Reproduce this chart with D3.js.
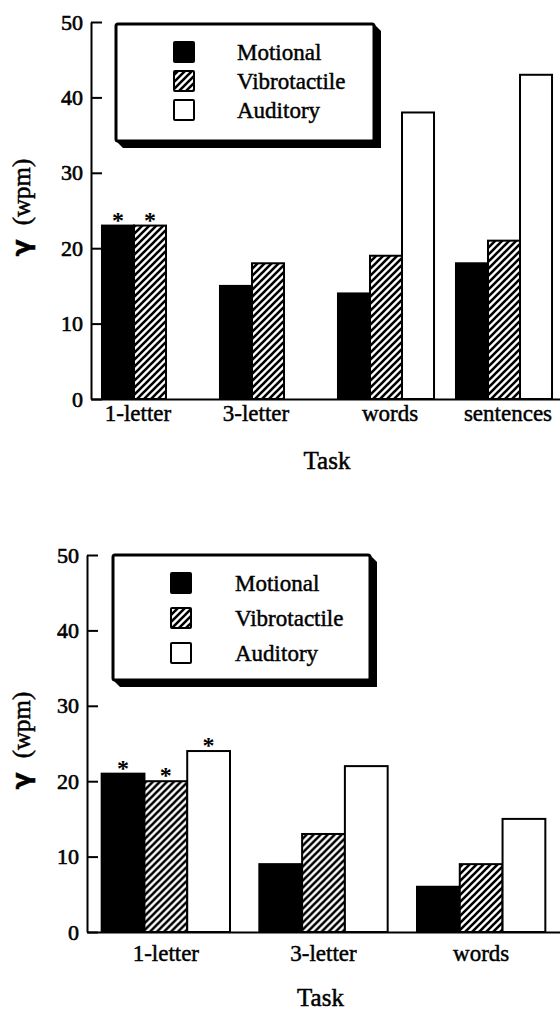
<!DOCTYPE html>
<html>
<head>
<meta charset="utf-8">
<script src="https://cdn.jsdelivr.net/npm/d3@7"></script>
<style>
  html, body { margin: 0; padding: 0; background: #fff; }
  svg { display: block; }
  text { font-family: "Liberation Serif", "Times New Roman", serif; fill: #000; }
</style>
</head>
<body>
<svg id="chart" width="560" height="1013"></svg>
<script>
// ---------- data ----------
const seriesNames = ["Motional", "Vibrotactile", "Auditory"];
const yTicks = [0, 10, 20, 30, 40, 50];
const yLabel = "γ (wpm)";
const xLabel = "Task";

// upper panel
const tasksA = ["1-letter", "3-letter", "words", "sentences"];
const motionalA = [23, 15, 14, 18];
const vibrotactileA = [23, 18, 19, 21];
const auditoryA = [null, null, 38, 43];
const starredA = [["1-letter", "Motional"], ["1-letter", "Vibrotactile"]];

// lower panel
const tasksB = ["1-letter", "3-letter", "words"];
const motionalB = [21, 9, 6];
const vibrotactileB = [20, 13, 9];
const auditoryB = [24, 22, 15];
const starredB = [["1-letter", "Motional"], ["1-letter", "Vibrotactile"], ["1-letter", "Auditory"]];

// ---------- drawing ----------
const svg = d3.select("#chart");
svg.append("rect").attr("width", 560).attr("height", 1013).attr("fill", "#fff");

const defs = svg.append("defs");
const pat = defs.append("pattern")
  .attr("id", "hatch").attr("patternUnits", "userSpaceOnUse")
  .attr("width", 7).attr("height", 7);
pat.append("rect").attr("width", 7).attr("height", 7).attr("fill", "#fff");
pat.append("path")
  .attr("d", "M-1,1 l2,-2 M0,7 l7,-7 M6,8 l2,-2")
  .attr("stroke", "#000").attr("stroke-width", 2.6);

const fills = { "Motional": "#000", "Vibrotactile": "url(#hatch)", "Auditory": "#fff" };

function drawPanel(cfg) {
  const g = svg.append("g");
  const series = [cfg.motional, cfg.vibrotactile, cfg.auditory];
  const rows = cfg.tasks.map((t, i) => ({
    task: t,
    values: seriesNames.map((s, j) => ({ task: t, series: s, value: series[j][i] }))
  }));

  const y = d3.scaleLinear().domain([0, 50]).range([cfg.y0, cfg.y50]);
  const x = d3.scaleBand().domain(cfg.tasks).range([cfg.xL, cfg.xR])
    .paddingInner(0.186).paddingOuter(0.093);
  const xs = d3.scaleBand().domain(seriesNames).range([0, x.bandwidth()]).padding(0);

  // y axis
  const yAxis = g.append("g").attr("transform", `translate(${cfg.xL},0)`)
    .call(d3.axisLeft(y).tickValues(yTicks).tickSizeInner(-11).tickSizeOuter(0).tickPadding(8));
  yAxis.select(".domain").attr("stroke", "#000").attr("stroke-width", 2);
  yAxis.selectAll(".tick line").attr("stroke", "#000").attr("stroke-width", 2);
  yAxis.selectAll(".tick text").attr("font-size", 22).attr("fill", "#000")
    .attr("stroke", "#000").attr("stroke-width", 0.6);

  // x axis
  const xAxis = g.append("g").attr("transform", `translate(0,${cfg.y0})`)
    .call(d3.axisBottom(x).tickValues([]).tickSizeOuter(0));
  xAxis.select(".domain").attr("stroke", "#000").attr("stroke-width", 2);

  // bars
  const groups = g.selectAll(".grp").data(rows).join("g")
    .attr("transform", d => `translate(${x(d.task)},0)`);
  groups.selectAll("rect").data(d => d.values.filter(v => v.value != null)).join("rect")
    .attr("x", d => xs(d.series))
    .attr("y", d => y(d.value))
    .attr("width", xs.bandwidth())
    .attr("height", d => y(0) - y(d.value))
    .attr("fill", d => fills[d.series])
    .attr("stroke", "#000").attr("stroke-width", 2);

  // asterisks
  g.selectAll(".star").data(cfg.starred).join("text")
    .attr("x", d => x(d[0]) + xs(d[1]) + xs.bandwidth() / 2)
    .attr("y", d => {
      const i = cfg.tasks.indexOf(d[0]);
      const j = seriesNames.indexOf(d[1]);
      return y(series[j][i]) + 2;
    })
    .attr("text-anchor", "middle").attr("font-size", 24).attr("font-weight", "bold")
    .text("*");

  // category labels (centred on the bars present)
  g.selectAll(".cat").data(rows).join("text")
    .attr("x", d => {
      const present = d.values.filter(v => v.value != null);
      const a = x(d.task) + xs(present[0].series);
      const b = x(d.task) + xs(present[present.length - 1].series) + xs.bandwidth();
      return (a + b) / 2 + cfg.catDx;
    })
    .attr("y", cfg.catY)
    .attr("text-anchor", "middle").attr("font-size", 23)
    .attr("stroke", "#000").attr("stroke-width", 0.45)
    .text(d => d.task);

  // x title
  g.append("text").attr("x", (cfg.xL + cfg.xR) / 2 + cfg.titleDx).attr("y", cfg.titleY)
    .attr("text-anchor", "middle").attr("font-size", 25)
    .attr("stroke", "#000").attr("stroke-width", 0.5)
    .text(xLabel);

  // y title
  const yt = g.append("text")
    .attr("transform", `translate(30,${(cfg.y0 + cfg.y50) / 2 - 3}) rotate(-90)`)
    .attr("text-anchor", "middle").attr("font-size", 25)
    .attr("stroke", "#000").attr("stroke-width", 0.5);
  const parts = yLabel.split(" ");
  yt.append("tspan").attr("font-family", "DejaVu Sans, sans-serif").attr("font-weight", "bold").text(parts[0]);
  yt.append("tspan").attr("dx", 14).text(parts[1]);

  // legend
  const L = cfg.legend;
  const lg = g.append("g");
  const sh = 7;
  lg.append("path")
    .attr("d", `M${L.x0},${L.y1} L${L.x0 + sh},${L.y1 + sh} L${L.x1 + sh},${L.y1 + sh} L${L.x1 + sh},${L.y0 + sh} L${L.x1},${L.y0} Z`)
    .attr("fill", "#000");
  lg.append("rect").attr("x", L.x0).attr("y", L.y0)
    .attr("width", L.x1 - L.x0).attr("height", L.y1 - L.y0)
    .attr("fill", "#fff").attr("stroke", "#000").attr("stroke-width", 3).attr("rx", 2);
  const items = lg.selectAll(".li").data(seriesNames).join("g")
    .attr("transform", (d, i) => `translate(0,${L.rowY0 + i * L.rowStep})`);
  items.append("rect").attr("x", L.sqX).attr("y", -10).attr("width", 20).attr("height", 20)
    .attr("fill", d => fills[d]).attr("stroke", "#000").attr("stroke-width", 2).attr("rx", 1);
  items.append("text").attr("x", L.textX).attr("y", 0).attr("dy", "0.33em")
    .attr("font-size", 23).attr("stroke", "#000").attr("stroke-width", 0.45)
    .text(d => d);
}

drawPanel({
  tasks: tasksA, motional: motionalA, vibrotactile: vibrotactileA, auditory: auditoryA,
  starred: starredA,
  xL: 91, xR: 563, y0: 399, y50: 22,
  catY: 421, catDx: 4, titleY: 469, titleDx: 0,
  legend: { x0: 116, x1: 374, y0: 24, y1: 141, rowY0: 52, rowStep: 29, sqX: 174, textX: 237 }
});

drawPanel({
  tasks: tasksB, motional: motionalB, vibrotactile: vibrotactileB, auditory: auditoryB,
  starred: starredB,
  xL: 87, xR: 560, y0: 932, y50: 555,
  catY: 961, catDx: 0, titleY: 1006, titleDx: -3,
  legend: { x0: 113, x1: 370, y0: 555, y1: 680, rowY0: 583, rowStep: 35, sqX: 171, textX: 235 }
});
</script>
</body>
</html>
